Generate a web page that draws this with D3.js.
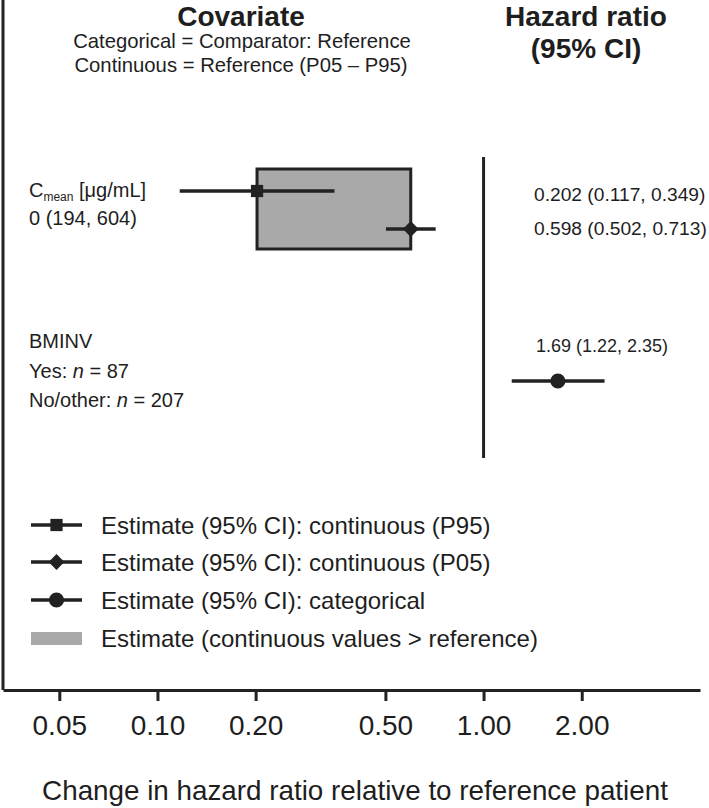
<!DOCTYPE html>
<html><head><meta charset="utf-8">
<script src="https://cdn.jsdelivr.net/npm/d3@7"></script>
<style>
body{margin:0;background:#fff}
svg text{font-family:"Liberation Sans",Arial,Helvetica,sans-serif;fill:#1e1e1e}
</style>
</head><body>
<svg id="chart" width="709" height="808"></svg>
<script>
// ---- data ----
const tickValues = [0.05, 0.10, 0.20, 0.50, 1.00, 2.00];
const tickLabels = ["0.05", "0.10", "0.20", "0.50", "1.00", "2.00"];
const p95Est = [0.202], p95Lo = [0.117], p95Hi = [0.349];
const p05Est = [0.598], p05Lo = [0.502], p05Hi = [0.713];
const catEst = [1.69], catLo = [1.22], catHi = [2.35];
const ciTexts = ["0.202 (0.117, 0.349)", "0.598 (0.502, 0.713)", "1.69 (1.22, 2.35)"];
const legendLabels = [
  "Estimate (95% CI): continuous (P95)",
  "Estimate (95% CI): continuous (P05)",
  "Estimate (95% CI): categorical",
  "Estimate (continuous values > reference)"
];

// ---- layout ----
const left = 3, right = 700, axisY = 690;
const dark = "#222";
const grey = "#a9a9a9";
const svg = d3.select("#chart");

const x = d3.scaleLog().domain([0.0336, 4.61]).range([left, right]);

// left frame line
svg.append("line").attr("x1", left).attr("x2", left).attr("y1", 0).attr("y2", axisY)
  .attr("stroke", dark).attr("stroke-width", 3);

// bottom axis
const axis = d3.axisBottom(x).tickValues(tickValues)
  .tickFormat((d, i) => tickLabels[i]).tickSize(11).tickSizeOuter(0).tickPadding(14);
const ag = svg.append("g").attr("transform", `translate(0,${axisY})`).call(axis);
ag.select(".domain").attr("stroke", dark).attr("stroke-width", 3);
ag.selectAll(".tick line").attr("stroke", dark).attr("stroke-width", 3);
ag.selectAll(".tick text").attr("font-size", 28).attr("fill", "#1e1e1e")
  .attr("font-family", "Liberation Sans, Arial, sans-serif");

svg.append("text").attr("x", 355).attr("y", 800).attr("text-anchor", "middle")
  .attr("font-size", 27.8).text("Change in hazard ratio relative to reference patient");

// headers
svg.append("text").attr("x", 241).attr("y", 26).attr("text-anchor", "middle")
  .attr("font-size", 28).attr("font-weight", "bold").text("Covariate");
svg.append("text").attr("x", 242).attr("y", 48).attr("text-anchor", "middle")
  .attr("font-size", 20.3).text("Categorical = Comparator: Reference");
svg.append("text").attr("x", 241).attr("y", 72).attr("text-anchor", "middle")
  .attr("font-size", 20.3).text("Continuous = Reference (P05 \u2013 P95)");
svg.append("text").attr("x", 586).attr("y", 26).attr("text-anchor", "middle")
  .attr("font-size", 28).attr("font-weight", "bold").text("Hazard ratio");
svg.append("text").attr("x", 586).attr("y", 58).attr("text-anchor", "middle")
  .attr("font-size", 28).attr("font-weight", "bold").text("(95% CI)");

// reference line
svg.append("line").attr("x1", x(1)).attr("x2", x(1)).attr("y1", 157).attr("y2", 458)
  .attr("stroke", dark).attr("stroke-width", 3);

// covariate labels
const lx = 29, fs = 20;
const t1 = svg.append("text").attr("x", lx).attr("y", 197).attr("font-size", fs);
t1.append("tspan").text("C");
t1.append("tspan").attr("font-size", 12).attr("dy", 4).text("mean");
t1.append("tspan").attr("dy", -4).text(" [\u03BCg/mL]");
svg.append("text").attr("x", lx).attr("y", 225).attr("font-size", fs).text("0 (194, 604)");
svg.append("text").attr("x", lx).attr("y", 348).attr("font-size", fs).text("BMINV");
const t3 = svg.append("text").attr("x", lx).attr("y", 378).attr("font-size", fs);
t3.append("tspan").text("Yes: ");
t3.append("tspan").attr("font-style", "italic").text("n");
t3.append("tspan").text(" = 87");
const t4 = svg.append("text").attr("x", lx).attr("y", 407).attr("font-size", fs);
t4.append("tspan").text("No/other: ");
t4.append("tspan").attr("font-style", "italic").text("n");
t4.append("tspan").text(" = 207");

// CI texts
svg.append("text").attr("x", 534).attr("y", 201).attr("font-size", 19.2).text(ciTexts[0]);
svg.append("text").attr("x", 534).attr("y", 235).attr("font-size", 19.2).text(ciTexts[1]);
svg.append("text").attr("x", 536).attr("y", 352).attr("font-size", 18).text(ciTexts[2]);

// box (continuous range)
const yP95 = 191, yP05 = 229, yCat = 381;
svg.append("rect").attr("x", x(p95Est[0])).attr("y", 169)
  .attr("width", x(p05Est[0]) - x(p95Est[0])).attr("height", 80)
  .attr("fill", grey).attr("stroke", dark).attr("stroke-width", 3);

// CI lines and markers
function ci(lo, hi, y) {
  svg.append("line").attr("x1", x(lo)).attr("x2", x(hi)).attr("y1", y).attr("y2", y)
    .attr("stroke", dark).attr("stroke-width", 3.5);
}
ci(p95Lo[0], p95Hi[0], yP95);
ci(p05Lo[0], p05Hi[0], yP05);
ci(catLo[0], catHi[0], yCat);

const sq = d3.symbol().type(d3.symbolSquare).size(150);
const dm = d3.symbol().type(d3.symbolSquare).size(125);
const cr = d3.symbol().type(d3.symbolCircle).size(180);
svg.append("path").attr("d", sq()).attr("transform", `translate(${x(p95Est[0])},${yP95})`).attr("fill", dark);
svg.append("path").attr("d", dm()).attr("transform", `translate(${x(p05Est[0])},${yP05}) rotate(45)`).attr("fill", dark);
svg.append("path").attr("d", cr()).attr("transform", `translate(${x(catEst[0])},${yCat})`).attr("fill", dark);

// legend
const legY = [525, 562, 600, 638];
const syms = [sq, dm, cr, null];
const rots = [0, 45, 0, 0];
legendLabels.forEach((lab, i) => {
  const g = svg.append("g").attr("transform", `translate(0,${legY[i]})`);
  if (syms[i]) {
    g.append("line").attr("x1", 31).attr("x2", 82).attr("stroke", dark).attr("stroke-width", 3.5);
    g.append("path").attr("d", syms[i]()).attr("transform", `translate(56.5,0) rotate(${rots[i]})`).attr("fill", dark);
  } else {
    g.append("rect").attr("x", 31).attr("y", -6).attr("width", 51).attr("height", 13).attr("fill", grey);
  }
  g.append("text").attr("x", 101).attr("y", 8.5).attr("font-size", 24).text(lab);
});
</script>
</body></html>
